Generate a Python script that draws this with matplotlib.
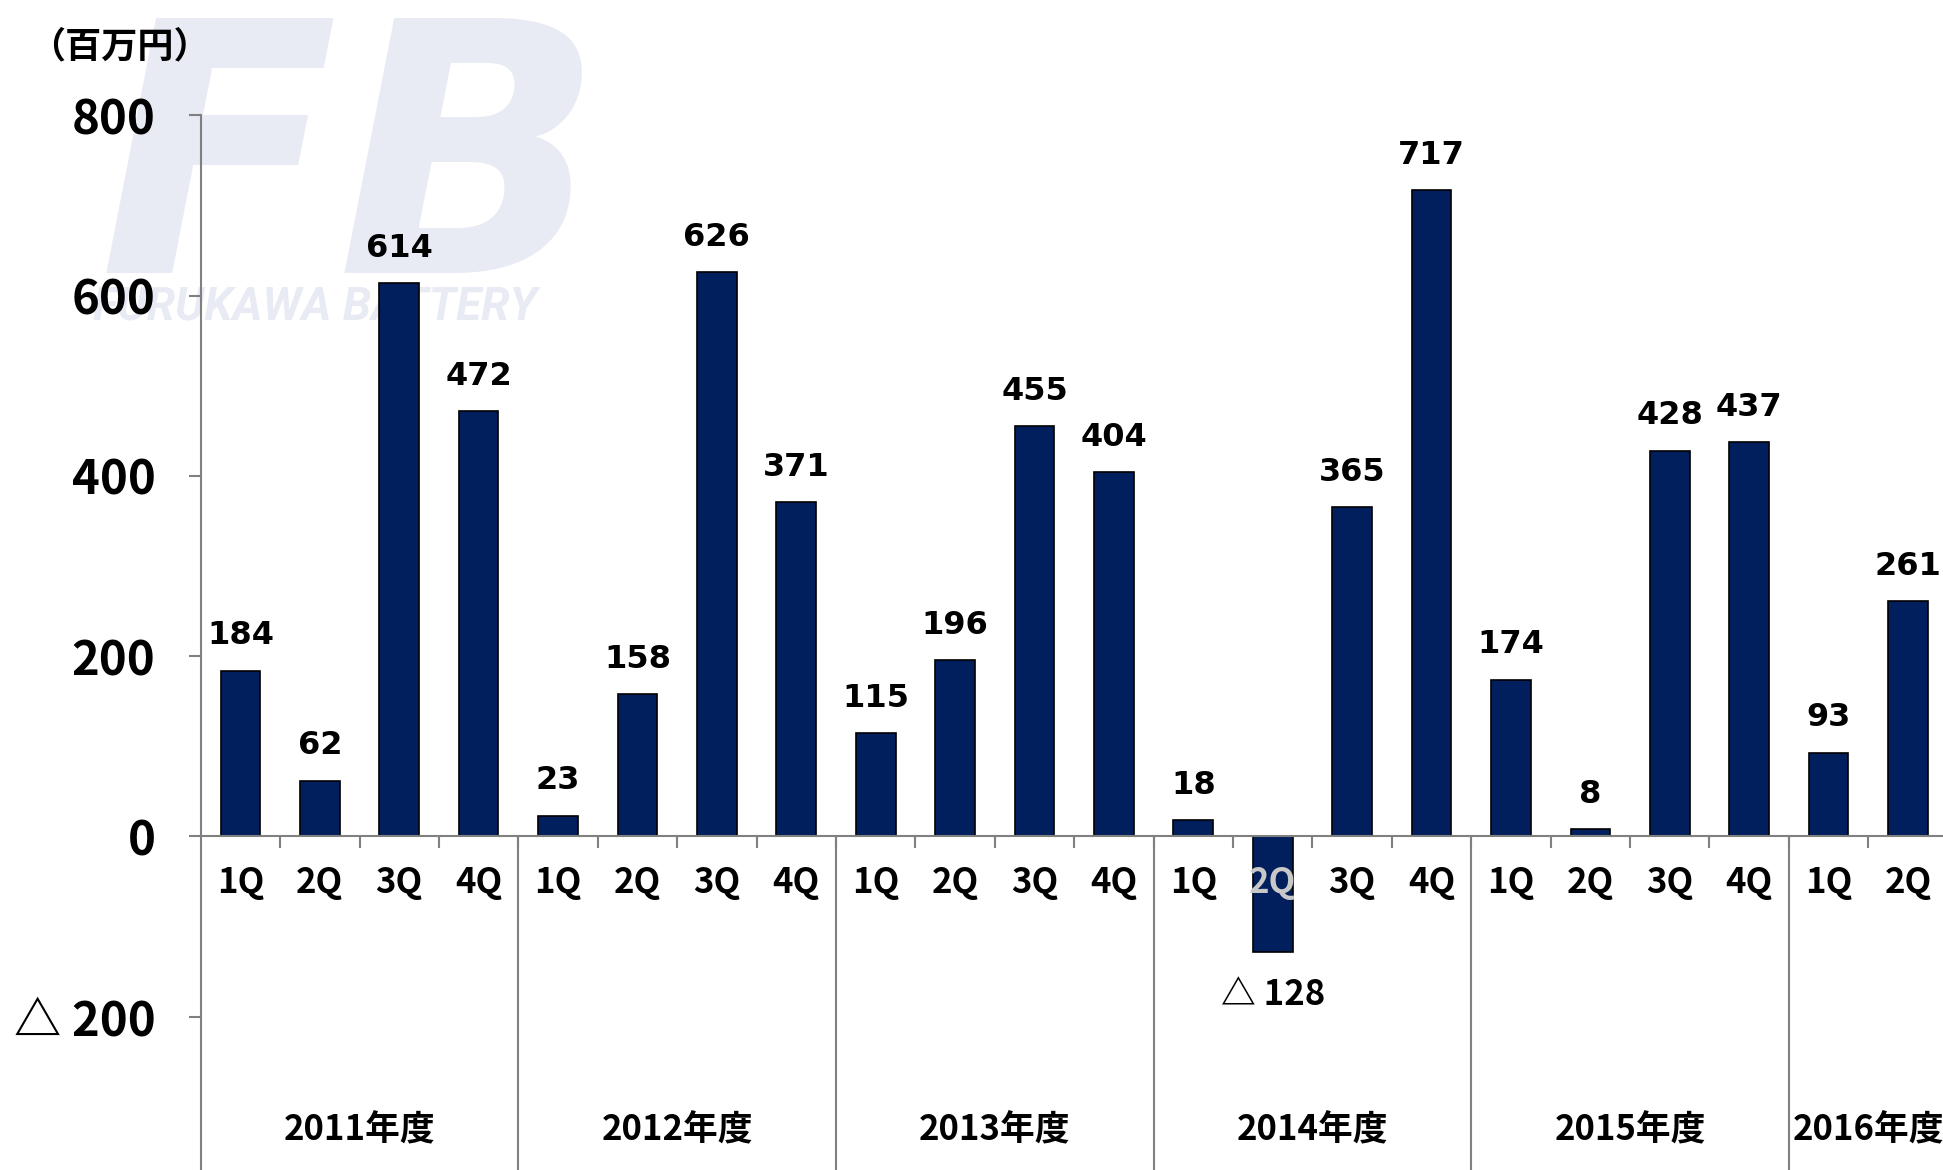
import matplotlib
matplotlib.use('Agg')
import matplotlib.pyplot as plt
import numpy as np

# ---- data ----
years = ['2011年度', '2012年度', '2013年度', '2014年度', '2015年度', '2016年度']
quarters_per_year = [4, 4, 4, 4, 4, 2]
quarter_labels = ['1Q', '2Q', '3Q', '4Q'] * 5 + ['1Q', '2Q']
values = [184, 62, 614, 472,
          23, 158, 626, 371,
          115, 196, 455, 404,
          18, -128, 365, 717,
          174, 8, 428, 437,
          93, 261]
yticks = [-200, 0, 200, 400, 600, 800]
unit_label = '（百万円）'

# ---- style ----
BAR = '#001F5C'
GRAY = '#808080'
CJK = ['Noto Sans CJK JP', 'DejaVu Sans']
LOGO = '#E8EAF4'

W, H = 1943, 1170
fig = plt.figure(figsize=(W / 100, H / 100), dpi=100)

# watermark logo (behind everything)
fig.text(99 / W, 1 - 273 / H, 'FB', fontsize=252, fontweight='bold', style='italic',
         family='DejaVu Sans', color=LOGO, ha='left', va='baseline', zorder=-5)
fig.text(93 / W, 1 - 320 / H, 'FURUKAWA BATTERY', fontsize=33, fontweight='bold',
         style='italic', family='Roboto', color=LOGO, ha='left', va='baseline', zorder=-5)

ax = fig.add_axes([200.7 / W, 0, 1747 / W, 1 - 115.2 / H])
ax.patch.set_alpha(0)

n = len(values)
x = np.arange(n)
ax.bar(x, values, width=0.5, color=BAR, edgecolor='black', linewidth=1.2, zorder=3)

ax.set_xlim(-0.5, n - 0.5)
ax.set_ylim(-370, 800)

# spines
for s in ['top', 'right']:
    ax.spines[s].set_visible(False)
ax.spines['left'].set_color(GRAY)
ax.spines['left'].set_linewidth(1.5)
ax.spines['bottom'].set_color(GRAY)
ax.spines['bottom'].set_linewidth(1.5)
ax.spines['bottom'].set_position(('data', 0))
ax.spines['bottom'].set_zorder(4)

# y ticks
ax.set_yticks(yticks)
ax.set_yticklabels([('△ ' + str(abs(v))) if v < 0 else str(v) for v in yticks],
                   family=CJK, fontweight='bold', fontsize=34)
ax.tick_params(axis='y', direction='out', length=8.6, width=1.5, color=GRAY, pad=24)

# x boundary ticks
bounds = np.arange(0.5, n - 0.5, 1)
ax.set_xticks(bounds)
ax.set_xticklabels([])
ax.tick_params(axis='x', direction='out', length=8.6, width=1.5, color=GRAY)

# year separators
cum = np.cumsum(quarters_per_year)
seps = cum[:-1] - 0.5
ax.vlines(seps, -370, 0, color=GRAY, linewidth=1.5, zorder=2)

# quarter labels
for i, q in enumerate(quarter_labels):
    c = '#C8C8C8' if values[i] < 0 else 'black'
    ax.text(i, -51, q, ha='center', va='center', fontsize=25, fontweight='bold',
            family=CJK, color=c, zorder=5)

# year labels
starts = np.concatenate([[0], cum[:-1]])
for yl, s0, k in zip(years, starts, quarters_per_year):
    ax.text(s0 + k / 2 - 0.5, -326, yl, ha='center', va='center', fontsize=25,
            fontweight='bold', family=CJK)

# value labels
for i, v in enumerate(values):
    if v >= 0:
        ax.annotate(str(v), (i, v), xytext=(0, 25), textcoords='offset points',
                    ha='center', va='center', fontsize=23, fontweight='bold',
                    family='DejaVu Sans', zorder=6)
    else:
        ax.annotate('△ ' + str(abs(v)), (i, v), xytext=(0, -31), textcoords='offset points',
                    ha='center', va='center', fontsize=25, fontweight='bold',
                    family=CJK, zorder=6)

# unit label
fig.text(29 / W, 1 - 47 / H, unit_label, fontsize=26, fontweight='bold', family=CJK,
         ha='left', va='center')

fig.savefig('out.png', dpi=100)
